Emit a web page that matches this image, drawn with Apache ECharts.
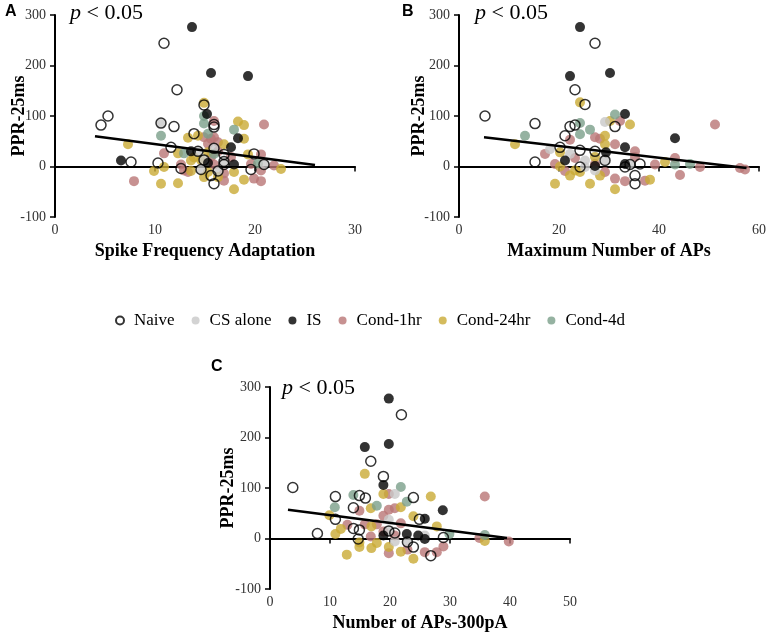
<!DOCTYPE html>
<html>
<head>
<meta charset="utf-8">
<script src="https://cdn.jsdelivr.net/npm/echarts@6/dist/echarts.min.js"></script>
<style>
html, body { margin: 0; padding: 0; background: #fff; }
#main { width: 767px; height: 638px; }
</style>
</head>
<body>
<div id="main"></div>
<script>
// groups (legend order)
var groups = ['Naive', 'CS alone', 'IS', 'Cond-1hr', 'Cond-24hr', 'Cond-4d'];

// A: Spike Frequency Adaptation vs PPR-25ms
var naiveA = [[10.9,244],[12.2,152],[5.3,100],[4.6,82],[10.6,86],[11.9,79],[14.9,122],[15.9,83],[15.9,78],[13.9,65],[11.6,38],[14.3,30],[15.9,36],[16.9,24],[19.9,25],[14.9,13],[7.6,9],[10.3,7],[16.9,10],[20.9,4],[12.6,-4],[14.6,-6],[16.3,-9],[16.9,4],[19.6,-6],[15.6,-18],[15.9,-34]];
var csA = [[10.6,86],[14.3,30],[15.9,36],[14.9,13],[16.9,10],[20.9,4],[14.6,-6],[16.3,-9]];
var isA = [[13.7,276],[15.6,185],[19.3,179],[15.2,104],[18.3,56],[17.6,38],[13.6,30],[6.6,12],[15.3,7],[17.9,4]];
var c1A = [[15.9,90],[20.9,83],[14.9,58],[15.6,55],[15.9,58],[15.3,45],[16.3,48],[10.9,26],[16.3,30],[20.6,24],[15.6,19],[17.6,19],[12.6,4],[15.9,4],[19.6,5],[21.9,2],[12.9,-8],[13.3,-11],[16.9,-14],[20.6,-8],[16.9,-28],[19.9,-24],[20.6,-29],[7.9,-29]];
var c24A = [[14.9,126],[18.3,89],[18.9,82],[13.3,57],[14.3,61],[18.9,55],[7.3,44],[16.9,44],[12.3,26],[15.3,28],[19.3,24],[13.9,18],[14.6,13],[13.6,12],[22.6,-5],[9.9,-9],[10.9,-1],[13.6,-9],[15.3,-11],[17.9,-11],[14.9,-21],[16.3,-21],[18.9,-26],[10.6,-34],[12.3,-33],[17.9,-45]];
var c4A = [[14.9,100],[14.9,85],[17.9,73],[10.6,61],[15.3,65],[12.9,26],[15.9,25],[20.3,6]];
var trendA = [[4,60],[26,3]];

// B: Maximum Number of APs vs PPR-25ms
var naiveB = [[27.2,244],[23.2,152],[25.2,123],[5.2,100],[15.2,85],[22.2,79],[23.2,82],[31.2,79],[21.2,61],[20.2,38],[24.2,32],[27.2,30],[15.2,9],[24.2,-1],[36.2,5],[33.2,-1],[35.2,-18],[35.2,-34],[29.2,12],[34.2,4]];
var csB = [[29.2,88],[18.2,34],[22.2,25],[25.2,12],[25.2,-1],[27.2,-8],[29.2,12],[34.2,4]];
var isB = [[24.2,276],[22.2,179],[30.2,185],[33.2,104],[43.2,56],[33.2,38],[29.4,28],[21.2,12],[27.2,1],[33.2,5]];
var c1B = [[32.2,90],[51.2,83],[27.2,58],[28.2,55],[22.2,53],[31.2,44],[17.2,25],[35.2,30],[35.2,19],[43.2,17],[23.2,17],[19.2,5],[39.2,4],[48.2,-1],[56.2,-3],[57.2,-6],[21.2,-9],[29.2,-11],[31.2,-24],[33.2,-29],[37.2,-28],[44.2,-17],[27.2,5]];
var c24B = [[24.2,127],[34.2,83],[30.2,90],[11.2,44],[29.2,61],[29.2,44],[20.2,28],[27.2,19],[41.2,9],[22.2,-18],[23.2,-8],[24.2,-11],[28.2,-18],[38.2,-26],[19.2,-34],[26.2,-34],[31.2,-45],[20.2,0]];
var c4B = [[31.2,103],[24.2,86],[13.2,61],[26.2,73],[24.2,64],[43.2,4],[46.2,5]];
var trendB = [[5,58],[57.5,-3]];

// C: Number of APs-300pA vs PPR-25ms
var naiveC = [[21.9,245],[16.8,153],[18.9,123],[3.8,101],[10.9,83],[14.9,85],[15.9,80],[23.9,81],[13.9,61],[10.9,38],[24.9,38],[7.9,10],[14.9,17],[13.9,20],[20.8,11],[23.9,-17],[26.8,-34],[28.9,2],[14.7,-1],[19.8,15],[22.9,-7]];
var csC = [[20.8,88],[19.8,37],[19.8,15],[20.8,-6],[22.9,-7],[25.8,6]];
var isC = [[19.8,277],[19.8,187],[15.8,181],[18.9,106],[28.8,56],[25.8,39],[22.8,9],[24.7,6],[25.8,-1],[18.9,6]];
var c1C = [[19.8,88],[35.8,83],[20.8,60],[19.8,57],[18.9,45],[14.9,55],[12.9,27],[15.8,28],[17.8,28],[21.8,30],[18.9,14],[20.8,6],[16.8,4],[34.9,1],[39.8,-6],[28.9,-16],[27.8,-27],[25.8,-27],[19.8,-29],[22.9,-22]];
var c24C = [[15.8,128],[18.9,88],[26.8,83],[9.9,46],[16.8,60],[21.8,62],[23.9,44],[11.8,19],[10.9,9],[16.9,24],[27.8,24],[14.9,-8],[14.9,-17],[17.8,-9],[12.8,-32],[16.9,-19],[21.8,-26],[23.9,-40],[35.8,-5],[19.8,-17]];
var c4C = [[13.9,86],[21.8,102],[10.8,62],[17.8,65],[22.8,73],[29.9,9],[35.8,7]];
var trendC = [[3,57],[39.5,1]];

var serif = '"Liberation Serif", "Times New Roman", serif';
var sans = '"Liberation Sans", Arial, sans-serif';

var styles = {
    'Naive': { color: 'rgba(255,255,255,0)', borderColor: '#000', borderWidth: 1.5 },
    'CS alone': { color: '#c8c8c8' },
    'IS': { color: '#000' },
    'Cond-1hr': { color: '#b97676' },
    'Cond-24hr': { color: '#c9aa35' },
    'Cond-4d': { color: '#7b9f89' }
};
// drawing order: coloured first, open circles on top
var drawOrder = ['Cond-1hr', 'Cond-24hr', 'Cond-4d', 'CS alone', 'IS', 'Naive'];

var panels = [
    { grid: { left: 55, top: 15, width: 300, height: 202 }, xmax: 30, xint: 10,
      xname: 'Spike Frequency Adaptation', yGap: 27,
      sets: { 'Naive': naiveA, 'CS alone': csA, 'IS': isA, 'Cond-1hr': c1A, 'Cond-24hr': c24A, 'Cond-4d': c4A },
      trend: trendA },
    { grid: { left: 459, top: 15, width: 300, height: 202 }, xmax: 60, xint: 20,
      xname: 'Maximum Number of APs', yGap: 31,
      sets: { 'Naive': naiveB, 'CS alone': csB, 'IS': isB, 'Cond-1hr': c1B, 'Cond-24hr': c24B, 'Cond-4d': c4B },
      trend: trendB },
    { grid: { left: 270, top: 387, width: 300, height: 202 }, xmax: 50, xint: 10,
      xname: 'Number of APs-300pA', yGap: 33,
      sets: { 'Naive': naiveC, 'CS alone': csC, 'IS': isC, 'Cond-1hr': c1C, 'Cond-24hr': c24C, 'Cond-4d': c4C },
      trend: trendC }
];

var grids = [], xAxes = [], yAxes = [], series = [];
panels.forEach(function (p, i) {
    var g = p.grid;
    g.containLabel = false;
    g.outerBoundsMode = 'none';
    grids.push(g);
    // axis carrying the tick labels and title at the bottom
    xAxes.push({
        gridIndex: i, type: 'value', min: 0, max: p.xmax, interval: p.xint, position: 'bottom',
        axisLine: { show: false, onZero: false }, axisTick: { show: false }, splitLine: { show: false },
        axisLabel: { fontFamily: serif, fontSize: 14, color: '#333', margin: 6 },
        name: p.xname, nameLocation: 'middle', nameGap: 25,
        nameTextStyle: { fontFamily: serif, fontWeight: 'bold', fontSize: 18, color: '#000' }
    });
    // axis line crossing at y = 0
    xAxes.push({
        gridIndex: i, type: 'value', min: 0, max: p.xmax, interval: p.xint, position: 'bottom',
        axisLine: { show: true, onZero: true, lineStyle: { color: '#000', width: 2 } },
        axisTick: { show: true, length: 5, lineStyle: { color: '#000', width: 1.5 } },
        axisLabel: { show: false }, splitLine: { show: false }
    });
    yAxes.push({
        gridIndex: i, type: 'value', min: -100, max: 300, interval: 100,
        axisLine: { show: true, onZero: false, lineStyle: { color: '#000', width: 2 } },
        axisTick: { show: true, length: 5, lineStyle: { color: '#000', width: 1.5 } },
        axisLabel: { fontFamily: serif, fontSize: 14, color: '#333', margin: 9 },
        splitLine: { show: false },
        name: 'PPR-25ms', nameLocation: 'middle', nameGap: p.yGap, nameMoveOverlap: false,
        nameTextStyle: { fontFamily: serif, fontWeight: 'bold', fontSize: 18, color: '#000' }
    });
    drawOrder.forEach(function (name) {
        series.push({
            type: 'scatter', name: name, xAxisIndex: 2 * i, yAxisIndex: i,
            data: p.sets[name], symbol: 'circle', symbolSize: 10,
            itemStyle: styles[name]
        });
    });
    series.push({
        type: 'line', xAxisIndex: 2 * i, yAxisIndex: i, data: p.trend,
        symbol: 'none', z: 5, lineStyle: { color: '#000', width: 2.5 }
    });
});

function pText(left, top) {
    return {
        type: 'text', left: left, top: top,
        style: {
            text: '{i|p} < 0.05', fontFamily: serif, fontSize: 22, fill: '#000',
            rich: { i: { fontFamily: serif, fontSize: 22, fontStyle: 'italic' } }
        }
    };
}
function letter(t, left, top) {
    return { type: 'text', left: left, top: top,
        style: { text: t, fontFamily: sans, fontWeight: 'bold', fontSize: 16, fill: '#000' } };
}

var option = {
    animation: false,
    backgroundColor: '#fff',
    grid: grids,
    xAxis: xAxes,
    yAxis: yAxes,
    legend: {
        data: groups, left: 110, top: 307, icon: 'circle',
        itemWidth: 8, itemHeight: 8, itemGap: 17,
        textStyle: { fontFamily: serif, fontSize: 17, color: '#000', padding: [0, 0, 0, 5] }
    },
    graphic: [
        pText(70, 2), pText(475, 2), pText(282, 377),
        letter('A', 5, 4), letter('B', 402, 4), letter('C', 211, 359)
    ],
    series: series
};

var myChart = echarts.init(document.getElementById('main'));
myChart.setOption(option);
</script>
</body>
</html>
